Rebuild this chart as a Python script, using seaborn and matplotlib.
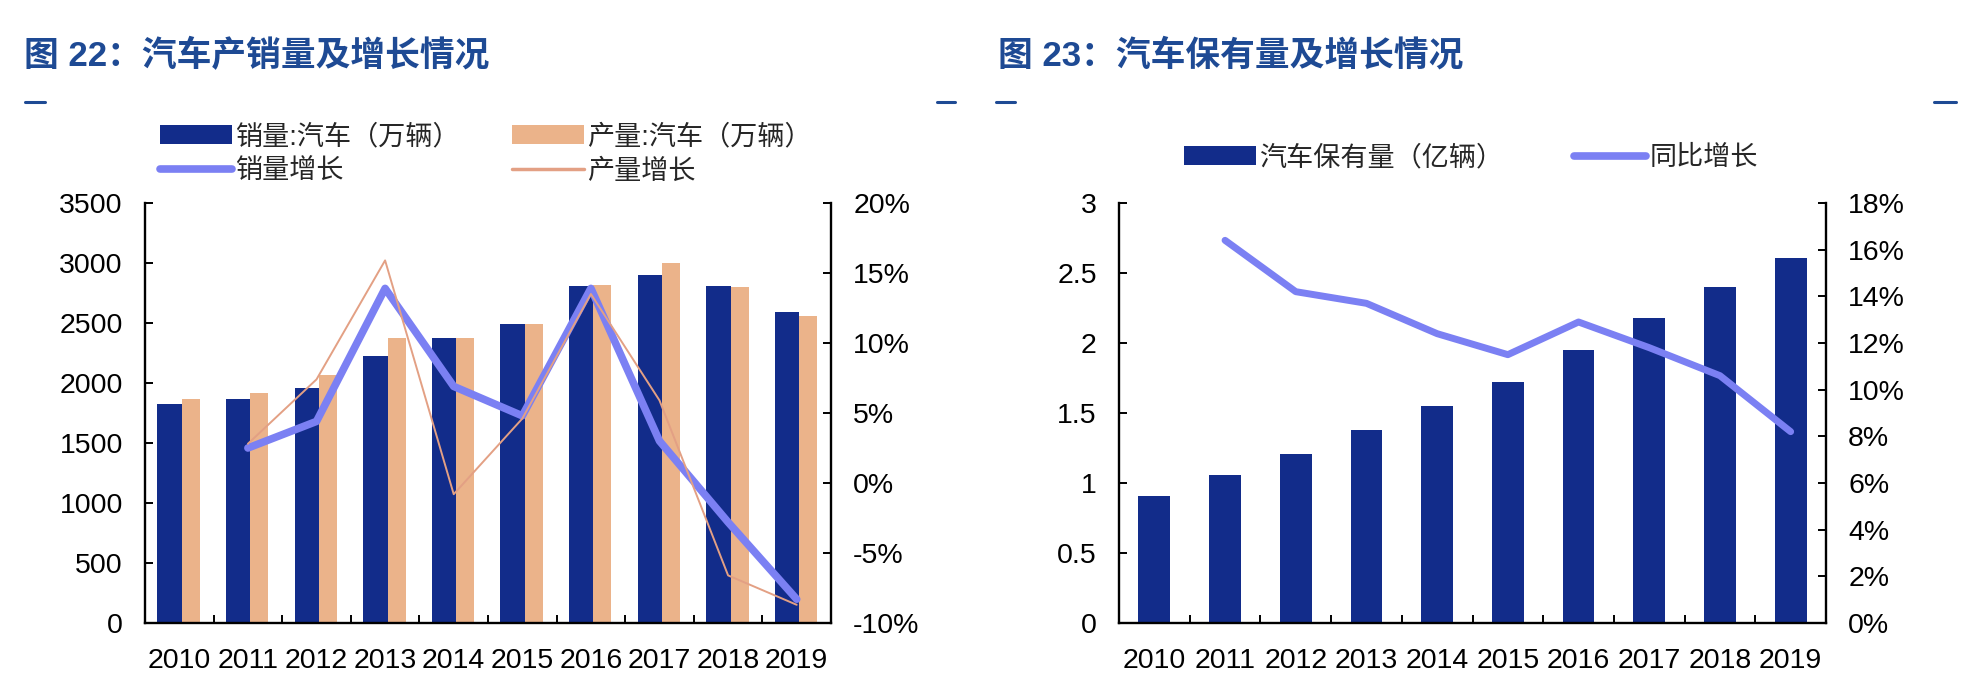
import numpy as np
import pandas as pd
import matplotlib
matplotlib.use("Agg")
import matplotlib.pyplot as plt
import seaborn as sns
from matplotlib.patches import Patch
from matplotlib.lines import Line2D
from matplotlib.ticker import FuncFormatter, FixedLocator

# ---------------- data ----------------
years = ["2010", "2011", "2012", "2013", "2014", "2015", "2016", "2017", "2018", "2019"]
sales = [1822, 1866, 1955, 2224, 2379, 2488, 2812, 2900, 2808, 2590]          # 销量:汽车（万辆）
production = [1869, 1913, 2069, 2379, 2379, 2488, 2815, 2998, 2800, 2557]     # 产量:汽车（万辆）
growth_years = ["2011", "2012", "2013", "2014", "2015", "2016", "2017", "2018", "2019"]
sales_growth = [2.5, 4.4, 13.9, 6.9, 4.8, 13.9, 3.0, -2.8, -8.3]              # 销量增长 %
prod_growth = [2.8, 7.4, 15.9, -0.8, 4.6, 13.5, 5.9, -6.6, -8.7]              # 产量增长 %

own_years = ["2010", "2011", "2012", "2013", "2014", "2015", "2016", "2017", "2018", "2019"]
ownership = [0.91, 1.06, 1.21, 1.38, 1.55, 1.72, 1.95, 2.18, 2.40, 2.61]      # 汽车保有量（亿辆）
own_growth_years = ["2011", "2012", "2013", "2014", "2015", "2016", "2017", "2018", "2019"]
own_growth = [16.4, 14.2, 13.7, 12.4, 11.5, 12.9, 11.8, 10.6, 8.2]            # 同比增长 %

title_left = "图 22：汽车产销量及增长情况"
title_right = "图 23：汽车保有量及增长情况"
lbl_sales = "销量:汽车（万辆）"
lbl_prod = "产量:汽车（万辆）"
lbl_sales_g = "销量增长"
lbl_prod_g = "产量增长"
lbl_own = "汽车保有量（亿辆）"
lbl_own_g = "同比增长"

# ---------------- style ----------------
sns.set_theme(style="white")
FAM = ["Liberation Sans", "Noto Sans CJK SC", "DejaVu Sans"]
plt.rcParams["font.family"] = FAM
plt.rcParams["axes.unicode_minus"] = False

NAVY = "#122C8A"
PEACH = "#EBB38A"
PERI = "#7B80F3"
SALMON = "#E3A084"
TITLE_C = "#1E4A94"

W, H = 1964, 692
fig = plt.figure(figsize=(W / 100, H / 100), dpi=100)
fig.patch.set_facecolor("white")

def fx(px):
    return px / W

def fy(py):
    return 1 - py / H

TICK_FS = 20.5
LEG_FS = 19.5

def style_axes(ax, side):
    ax.spines["top"].set_visible(False)
    if side == "left":
        ax.spines["right"].set_visible(False)
        for s in ["left", "bottom"]:
            ax.spines[s].set_linewidth(1.7)
            ax.spines[s].set_color("black")
    else:
        ax.spines["left"].set_visible(False)
        ax.spines["bottom"].set_visible(False)
        ax.spines["right"].set_linewidth(1.7)
        ax.spines["right"].set_color("black")
    ax.tick_params(axis="y", which="major", direction="in", length=6, width=1.4,
                   labelsize=TICK_FS, pad=16, colors="black")
    ax.grid(False)

# ================= LEFT CHART =================
axL = fig.add_axes([fx(145), fy(623), fx(831 - 145), (623 - 203) / H])
dfL = pd.DataFrame({
    "year": years * 2,
    "value": sales + production,
    "series": [lbl_sales] * len(years) + [lbl_prod] * len(years),
})
sns.barplot(data=dfL, x="year", y="value", hue="series", palette=[NAVY, PEACH],
            width=0.62, saturation=1, ax=axL, legend=False, linewidth=0)
# slight width tweak: blue bar a bit wider than the peach bar
for bar in axL.containers[0]:
    c = bar.get_x() + bar.get_width()
    bar.set_x(c - 0.32)
    bar.set_width(0.355)
for bar in axL.containers[1]:
    c = bar.get_x()
    bar.set_x(c + 0.035)
    bar.set_width(0.265)

axL.set_xlim(-0.5, len(years) - 0.5)
axL.set_ylim(0, 3500)
axL.yaxis.set_major_locator(FixedLocator(np.arange(0, 3501, 500)))
axL.yaxis.set_major_formatter(FuncFormatter(lambda v, p: f"{v:.0f}"))
axL.set_xlabel("")
axL.set_ylabel("")
style_axes(axL, "left")
axL.tick_params(axis="x", which="major", length=0, labelsize=TICK_FS, pad=18, colors="black")
axL.xaxis.set_minor_locator(FixedLocator(np.arange(0.5, len(years) - 1, 1.0)))
axL.tick_params(axis="x", which="minor", direction="in", length=6, width=1.4, bottom=True, colors="black")

axL2 = axL.twinx()
xg = [years.index(y) for y in growth_years]
sns.lineplot(x=xg, y=sales_growth, ax=axL2, color=PERI, linewidth=5.5,
             solid_capstyle="round", solid_joinstyle="round")
sns.lineplot(x=xg, y=prod_growth, ax=axL2, color=SALMON, linewidth=1.4,
             solid_joinstyle="round")
axL2.set_ylim(-10, 20)
axL2.yaxis.set_major_locator(FixedLocator(np.arange(-10, 21, 5)))
axL2.yaxis.set_major_formatter(FuncFormatter(lambda v, p: f"{v:.0f}%"))
axL2.set_ylabel("")
style_axes(axL2, "right")
axL2.set_xlim(-0.5, len(years) - 0.5)

legL = fig.legend(
    handles=[Patch(facecolor=NAVY, edgecolor="none"),
             Line2D([], [], color=PERI, linewidth=5.5, solid_capstyle="round"),
             Patch(facecolor=PEACH, edgecolor="none"),
             Line2D([], [], color=SALMON, linewidth=2.5)],
    labels=[lbl_sales, lbl_sales_g, lbl_prod, lbl_prod_g],
    ncol=2, loc="upper left", bbox_to_anchor=(fx(160), fy(124)),
    frameon=False, handlelength=2.67, handleheight=0.7,
    handletextpad=0.12, columnspacing=1.9, labelspacing=0.32,
    borderpad=0, borderaxespad=0, prop={"family": FAM, "size": LEG_FS})

# ================= RIGHT CHART =================
axR = fig.add_axes([fx(1119), fy(623), fx(1826 - 1119), (623 - 203) / H])
dfR = pd.DataFrame({"year": own_years, "value": ownership})
sns.barplot(data=dfR, x="year", y="value", color=NAVY, width=0.45, saturation=1,
            ax=axR, linewidth=0)
axR.set_xlim(-0.5, len(own_years) - 0.5)
axR.set_ylim(0, 3)
axR.yaxis.set_major_locator(FixedLocator(np.arange(0, 3.01, 0.5)))
axR.yaxis.set_major_formatter(FuncFormatter(lambda v, p: f"{v:g}"))
axR.set_xlabel("")
axR.set_ylabel("")
style_axes(axR, "left")
axR.tick_params(axis="x", which="major", length=0, labelsize=TICK_FS, pad=18, colors="black")
axR.xaxis.set_minor_locator(FixedLocator(np.arange(0.5, len(own_years) - 1, 1.0)))
axR.tick_params(axis="x", which="minor", direction="in", length=6, width=1.4, bottom=True, colors="black")

axR2 = axR.twinx()
xo = [own_years.index(y) for y in own_growth_years]
sns.lineplot(x=xo, y=own_growth, ax=axR2, color=PERI, linewidth=5,
             solid_capstyle="round", solid_joinstyle="round")
axR2.set_ylim(0, 18)
axR2.yaxis.set_major_locator(FixedLocator(np.arange(0, 18.1, 2)))
axR2.yaxis.set_major_formatter(FuncFormatter(lambda v, p: f"{v:.0f}%"))
axR2.set_ylabel("")
style_axes(axR2, "right")
axR2.set_xlim(-0.5, len(own_years) - 0.5)

legR = fig.legend(
    handles=[Patch(facecolor=NAVY, edgecolor="none"),
             Line2D([], [], color=PERI, linewidth=5.5, solid_capstyle="round")],
    labels=[lbl_own, lbl_own_g],
    ncol=2, loc="upper left", bbox_to_anchor=(fx(1184), fy(145)),
    frameon=False, handlelength=2.67, handleheight=0.7,
    handletextpad=0.12, columnspacing=2.6,
    borderpad=0, borderaxespad=0, prop={"family": FAM, "size": LEG_FS})

# ================= titles & decorations =================
fig.text(fx(24), fy(56), title_left, fontsize=25, fontweight="bold", color=TITLE_C,
         va="center", ha="left", family=FAM)
fig.text(fx(998), fy(56), title_right, fontsize=25, fontweight="bold", color=TITLE_C,
         va="center", ha="left", family=FAM)
for x0, x1 in [(25, 45), (937, 955), (996, 1015), (1934, 1956)]:
    fig.add_artist(Line2D([fx(x0), fx(x1)], [fy(101.5), fy(101.5)], color=TITLE_C,
                          linewidth=2.2, transform=fig.transFigure))

fig.savefig("out.png", dpi=100, facecolor="white")
